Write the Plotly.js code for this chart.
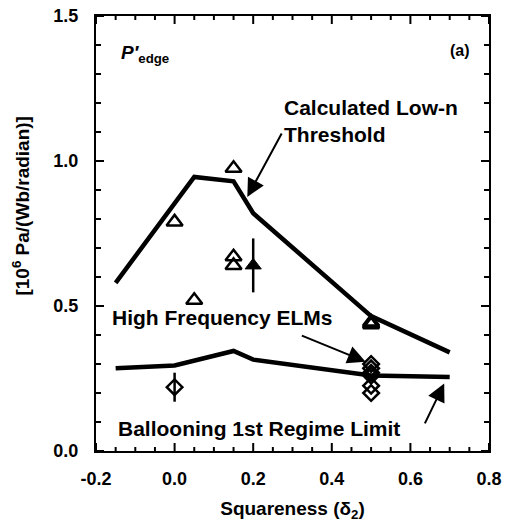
<!DOCTYPE html>
<html>
<head>
<meta charset="utf-8">
<script src="https://cdn.plot.ly/plotly-3.0.1.min.js"></script>
<style>html,body{margin:0;padding:0;background:#fff;}#chart{width:507px;height:523px;}</style>
</head>
<body>
<div id="chart"></div>
<script>
// Calculated low-n threshold curve
const lowNX = [-0.15, 0.05, 0.15, 0.2, 0.5, 0.7];
const lowNY = [0.58, 0.945, 0.93, 0.82, 0.465, 0.34];
// Ballooning 1st regime limit curve
const ballX = [-0.15, 0.0, 0.15, 0.2, 0.5, 0.7];
const ballY = [0.285, 0.295, 0.345, 0.315, 0.26, 0.255];
// Open triangles (measured P'edge)
const triX = [0.0, 0.05, 0.15, 0.15, 0.15, 0.5, 0.5, 0.5];
const triY = [0.79, 0.52, 0.975, 0.67, 0.64, 0.445, 0.44, 0.435];
// Filled triangle with error bar
const triFX = [0.2];
const triFY = [0.64];
const triFErr = [0.093];
// Open diamonds (high frequency ELMs)
const diaX = [0.0, 0.5, 0.5, 0.5, 0.5, 0.5, 0.5];
const diaY = [0.22, 0.30, 0.285, 0.27, 0.26, 0.225, 0.20];
const diaErr = [0.05, 0, 0, 0, 0, 0, 0];
// Tick labels and tick positions
const xTickVals = [-0.2, 0.0, 0.2, 0.4, 0.6, 0.8];
const xTickText = ['-0.2', '0.0', '0.2', '0.4', '0.6', '0.8'];
const xMinorTicks = [-0.15, -0.1, -0.05, 0.05, 0.1, 0.15, 0.25, 0.3, 0.35, 0.45, 0.5, 0.55, 0.65, 0.7, 0.75];
const yTickVals = [0.0, 0.5, 1.0, 1.5];
const yTickText = ['0.0', '0.5', '1.0', '1.5'];
const yMinorTicks = [0.1, 0.2, 0.3, 0.4, 0.6, 0.7, 0.8, 0.9, 1.1, 1.2, 1.3, 1.4];

const FONT = 'Liberation Sans, Arial, Helvetica, sans-serif';
const XR = [-0.2, 0.8], YR = [0, 1.5];

// inward tick marks as pixel-sized line shapes anchored on the axis values
const tickLine = {color: '#000', width: 2};
const shapes = [];
function addXTicks(vals, len) {
  vals.forEach(v => {
    shapes.push({type: 'line', xref: 'x', yref: 'y', x0: v, x1: v, ysizemode: 'pixel', yanchor: YR[0], y0: 0, y1: len, line: tickLine, layer: 'above'});
    shapes.push({type: 'line', xref: 'x', yref: 'y', x0: v, x1: v, ysizemode: 'pixel', yanchor: YR[1], y0: 0, y1: -len, line: tickLine, layer: 'above'});
  });
}
function addYTicks(vals, len) {
  vals.forEach(v => {
    shapes.push({type: 'line', xref: 'x', yref: 'y', y0: v, y1: v, xsizemode: 'pixel', xanchor: XR[0], x0: 0, x1: len, line: tickLine, layer: 'above'});
    shapes.push({type: 'line', xref: 'x', yref: 'y', y0: v, y1: v, xsizemode: 'pixel', xanchor: XR[1], x0: 0, x1: -len, line: tickLine, layer: 'above'});
  });
}
addXTicks(xTickVals, 8);
addXTicks(xMinorTicks, 4);
addYTicks(yTickVals, 8);
addYTicks(yMinorTicks, 5);

const traces = [
  {x: lowNX, y: lowNY, mode: 'lines', line: {color: '#000', width: 4.5}, hoverinfo: 'skip'},
  {x: ballX, y: ballY, mode: 'lines', line: {color: '#000', width: 4.5}, hoverinfo: 'skip'},
  {x: triX, y: triY, mode: 'markers',
   marker: {symbol: 'triangle-up-open', size: 14, color: '#000', line: {width: 2.5, color: '#000'}}},
  {x: triFX, y: triFY, mode: 'markers',
   marker: {symbol: 'triangle-up', size: 14, color: '#000', line: {width: 1, color: '#000'}},
   error_y: {type: 'data', array: triFErr, visible: true, color: '#000', thickness: 2.5, width: 0}},
  {x: diaX, y: diaY, mode: 'markers',
   marker: {symbol: 'diamond-open', size: 12, color: '#000', line: {width: 2.5, color: '#000'}},
   error_y: {type: 'data', array: diaErr, visible: true, color: '#000', thickness: 2.5, width: 0}}
];

const txt = {family: FONT, size: 21, color: '#000', weight: 'bold'};
const arrow = (x, y, ax, ay) => ({x: x, y: y, ax: ax, ay: ay, xref: 'x', yref: 'y', axref: 'x', ayref: 'y',
  text: '', showarrow: true, arrowhead: 2, arrowsize: 1.8, arrowwidth: 2, arrowcolor: '#000', standoff: 0});

const layout = {
  width: 507, height: 523,
  margin: {l: 96, r: 18, t: 16, b: 72},
  paper_bgcolor: '#ffffff', plot_bgcolor: '#ffffff',
  showlegend: false,
  font: {family: FONT, color: '#000'},
  xaxis: {
    range: XR, tickmode: 'array', tickvals: xTickVals, ticktext: xTickText,
    ticks: '', showline: true, linewidth: 2, linecolor: 'black', mirror: true,
    showgrid: false, zeroline: false,
    tickfont: {family: FONT, size: 18, color: '#000', weight: 'bold'},
    ticklabelstandoff: 10,
    title: {text: 'Squareness (δ<sub>2</sub>)', font: {family: FONT, size: 19, color: '#000', weight: 'bold'}, standoff: 14}
  },
  yaxis: {
    range: YR, tickmode: 'array', tickvals: yTickVals, ticktext: yTickText,
    ticks: '', showline: true, linewidth: 2, linecolor: 'black', mirror: true,
    showgrid: false, zeroline: false,
    tickfont: {family: FONT, size: 18, color: '#000', weight: 'bold'},
    ticklabelstandoff: 12
  },
  shapes: shapes,
  annotations: [
    {xref: 'paper', yref: 'paper', x: -0.19, y: 0.565, textangle: -90, showarrow: false,
     text: '[10<sup>6</sup> Pa/(Wb/radian)]', font: {family: FONT, size: 19, color: '#000', weight: 'bold'},
     xanchor: 'center', yanchor: 'middle'},
    {xref: 'x', yref: 'y', x: -0.142, y: 1.37, xanchor: 'left', yanchor: 'middle', showarrow: false,
     text: '<i>P′</i><sub>edge</sub>', font: {family: FONT, size: 19, color: '#000', weight: 'bold'}},
    {xref: 'x', yref: 'y', x: 0.757, y: 1.38, xanchor: 'right', yanchor: 'middle', showarrow: false,
     text: '(a)', font: {family: FONT, size: 16, color: '#000', weight: 'bold'}},
    {xref: 'x', yref: 'y', x: 0.272, y: 1.138, xanchor: 'left', yanchor: 'middle', align: 'left', showarrow: false,
     text: 'Calculated Low-n<br>Threshold', font: txt},
    {xref: 'x', yref: 'y', x: -0.165, y: 0.459, xanchor: 'left', yanchor: 'middle', showarrow: false,
     text: 'High Frequency ELMs', font: txt},
    {xref: 'x', yref: 'y', x: -0.149, y: 0.076, xanchor: 'left', yanchor: 'middle', showarrow: false,
     text: 'Ballooning 1st Regime Limit', font: txt},
    arrow(0.185, 0.876, 0.2745, 1.10),
    arrow(0.486, 0.308, 0.32, 0.40),
    arrow(0.686, 0.233, 0.635, 0.09)
  ]
};

Plotly.newPlot('chart', traces, layout, {displayModeBar: false, staticPlot: true});
</script>
</body>
</html>
